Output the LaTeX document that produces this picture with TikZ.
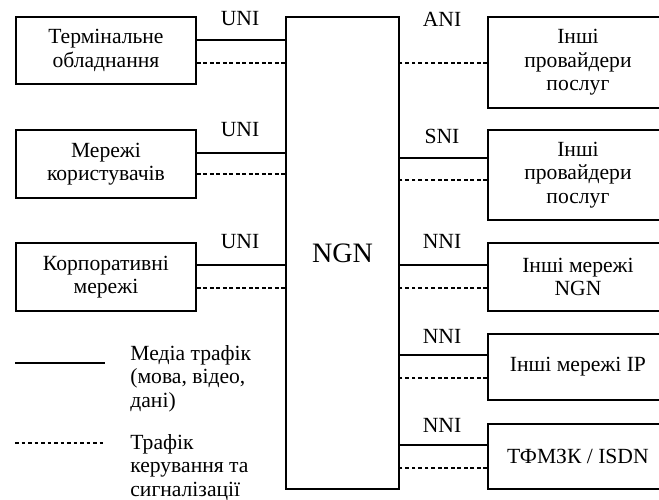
\documentclass[tikz,border=0pt]{standalone}
\usepackage{fontspec}
\setmainfont{Liberation Serif}
\usetikzlibrary{positioning, calc}
\tikzset{
    netbox/.style ={rectangle, draw=black, line width=1.1pt, text centered, align=center, minimum width=3.6cm, inner sep=2pt, font=\fontsize{12.3}{13.4}\selectfont},
    media/.style  ={line width=1pt},
    signal/.style ={line width=1pt, dash pattern=on 2.2pt off 1.5pt},
    iflabel/.style={inner sep=0pt, font=\fontsize{12.3}{13.4}\selectfont},
    legtext/.style={inner sep=0pt, align=left, anchor=north west, font=\fontsize{12.3}{13.3}\selectfont},
}

\begin{document}
\begin{tikzpicture}[x=0.02cm, y=-0.02cm]
    \useasboundingbox (0,0) rectangle (659,500);
    % core network
    \node[netbox, anchor=north west, minimum width=2.26cm, minimum height=9.44cm, font=\fontsize{16}{19}\selectfont] (ngn) at (285,16) {NGN};
    % user side
    \node[netbox, anchor=north west, minimum height=1.34cm] (term)   at (15,16)  {Термінальне\\обладнання};
    \node[netbox, anchor=north west, minimum height=1.36cm] (usrnet) at (15,129) {Мережі\\користувачів};
    \node[netbox, anchor=north west, minimum height=1.36cm] (corp)   at (15,242) {Корпоративні\\мережі};
    % provider / network side
    \node[netbox, anchor=north west, minimum height=1.82cm] (prova)  at (487,16)  {Інші\\провайдери\\послуг};
    \node[netbox, anchor=north west, minimum height=1.80cm] (provs)  at (487,129) {Інші\\провайдери\\послуг};
    \node[netbox, anchor=north west, minimum height=1.36cm] (ngnnet) at (487,242) {Інші мережі\\NGN};
    \node[netbox, anchor=north west, minimum height=1.32cm] (ipnet)  at (487,333) {Інші мережі IP};
    \node[netbox, anchor=north west, minimum height=1.30cm] (pstn)   at (487,423) {ТФМЗК / ISDN};

    % links to user side
    \foreach \n/\a/\b in {term/10.5/-12.5, usrnet/11/-10, corp/12/-11}{
        \draw[media]  ([yshift=\a*0.02cm]\n.east) -- ([yshift=\a*0.02cm]\n.east -| ngn.west);
        \draw[signal] ([yshift=\b*0.02cm]\n.east) -- ([yshift=\b*0.02cm]\n.east -| ngn.west);
    }
    % links to provider / network side
    \draw[signal] ([yshift=-0.5*0.02cm]prova.west) -- ([yshift=-0.5*0.02cm]prova.west -| ngn.east);
    \foreach \n/\a/\b in {provs/17/-5, ngnnet/12/-11, ipnet/12/-11, pstn/11.5/-11.5}{
        \draw[media]  ([yshift=\a*0.02cm]\n.west) -- ([yshift=\a*0.02cm]\n.west -| ngn.east);
        \draw[signal] ([yshift=\b*0.02cm]\n.west) -- ([yshift=\b*0.02cm]\n.west -| ngn.east);
    }

    % interface labels
    \node[iflabel] (uni1) at (240,18.5) {UNI};
    \node[iflabel] (uni2) at (240,130)  {UNI};
    \node[iflabel] (uni3) at (240,241.5){UNI};
    \node[iflabel] (ani)  at (442,19)   {ANI};
    \node[iflabel] (sni)  at (442,136)  {SNI};
    \node[iflabel] (nni1) at (442,241)  {NNI};
    \node[iflabel] (nni2) at (442,336)  {NNI};
    \node[iflabel] (nni3) at (442,425)  {NNI};

    % legend
    \coordinate (ms) at (15,363);  \coordinate (me) at (105,363);
    \coordinate (ss) at (15,443);  \coordinate (se) at (105,443);
    \draw[media]  (ms) -- (me);
    \draw[signal] (ss) -- (se);
    \node[legtext] (medtxt) at (130,345) {Медіа трафік\\(мова, відео,\\дані)};
    \node[legtext] (sigtxt) at (130,434) {Трафік\\керування та\\сигналізації};
\end{tikzpicture}
\end{document}
